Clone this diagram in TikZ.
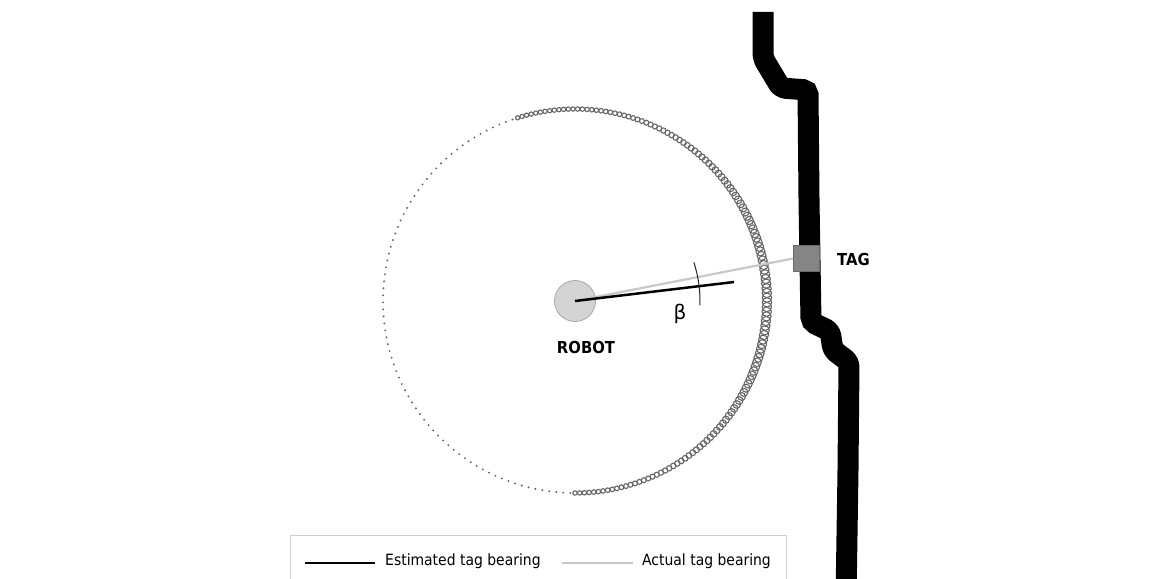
\documentclass[tikz,border=0pt]{standalone}
\usepackage{fontspec}
\setmainfont{DejaVu Sans}
\newfontfamily\condfont{DejaVu Sans Condensed}
\usetikzlibrary{calc}
\definecolor{ringgray}{HTML}{666666}
\definecolor{dotgray}{HTML}{606060}
\definecolor{actualgray}{HTML}{C8C8C8}
\definecolor{robotfill}{HTML}{D4D4D4}
\definecolor{robotedge}{HTML}{A8A8A8}
\definecolor{tagfill}{HTML}{858585}
\definecolor{tagedge}{HTML}{6A6A6A}
\definecolor{boxgray}{HTML}{CFCFCF}
\tikzset{
  wall/.style={line width=21pt, black},
  robotnode/.style={circle, minimum size=41pt, inner sep=0pt, fill=robotfill, draw=robotedge, line width=0.8pt},
  tagbox/.style={rectangle, minimum size=26pt, inner sep=0pt, fill=tagfill, draw=tagedge, line width=0.8pt},
  biglabel/.style={font=\condfont\bfseries\fontsize{16.5}{19}\selectfont, inner sep=0pt},
  legendtext/.style={font=\condfont\fontsize{15.5}{18}\selectfont, inner sep=0pt, anchor=west},
  estline/.style={black, line width=2.5pt},
  actline/.style={actualgray, line width=2.2pt},
  anglearc/.style={black!85, line width=1pt},
}
\begin{document}
\begin{tikzpicture}[x=1pt,y=-1pt]
\useasboundingbox (0,0) rectangle (1150,578);
\fill[white] (0,0) rectangle (1150,578);
\coordinate (C) at (575,301);
% dotted part of the circle
\foreach \a in {109,111.1,...,269} {
  \fill[dotgray] ($(C)+(-\a:192)$) circle (1.05);
}
% ring part of the circle
\foreach \a in {-90,-88.6,...,107.5} {
  \pgfmathsetmacro\d{2.1+2.6*exp(-1*((\a/50)^2))}
  \draw[ringgray, line width=1.1pt] ($(C)+(-\a:192)$) circle (\d);
}
% wall
\draw[wall, rounded corners=5pt] (763,12) -- (763,58) -- (781,88) -- (808,90) -- (809,200) -- (811,322) -- (830,331) -- (833,350) -- (849,362) -- (848,470) -- (846,600);
% robot and tag
\node[robotnode] (robot) at (C) {};
\node[tagbox] (tag) at (806.5,258.5) {};
\coordinate (est) at (734,282);
\draw[actline] (robot.center) -- (tag.west);
\draw[estline] (robot.center) -- (est);
\draw[anglearc] ($(C)+(2:125)$) arc[start angle=2, end angle=-18, radius=125];
\node[font=\fontsize{20}{24}\selectfont, inner sep=0pt] (beta) at (680,314) {β};
\node[biglabel] (robotlabel) at (586,347) {ROBOT};
\node[biglabel, anchor=west] (taglabel) at (837,259) {TAG};
% legend
\draw[boxgray, line width=1pt] (290,600) -- (290,535) -- (786,535) -- (786,600);
\coordinate (e1) at (305,563);
\coordinate (e2) at (375,563);
\coordinate (a1) at (562,563);
\coordinate (a2) at (633,563);
\draw[estline] (e1) -- (e2);
\draw[actline] (a1) -- (a2);
\node[legendtext] (estlabel) at (385,561) {Estimated tag bearing};
\node[legendtext] (actlabel) at (642,561) {Actual tag bearing};
\end{tikzpicture}
\end{document}
